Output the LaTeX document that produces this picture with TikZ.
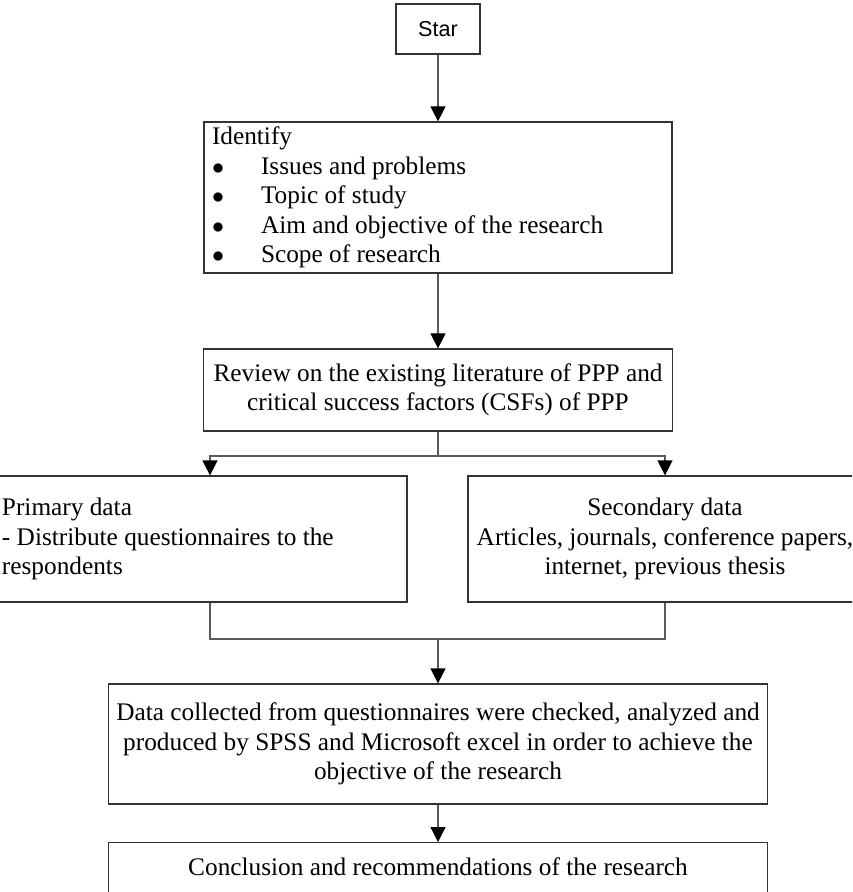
\documentclass[tikz,border=0pt]{standalone}
\usepackage{fontspec}
\setmainfont{Liberation Serif}
\newfontfamily\arialfont{Liberation Sans}
\usetikzlibrary{arrows.meta}
\newcommand{\itembul}{\makebox[24.5pt][l]{$\bullet$}}

\begin{document}
\begin{tikzpicture}[x=0.5pt, y=-0.5pt,
    box/.style={draw=black!80, line width=0.6pt, inner xsep=2pt, inner ysep=2pt,
      font=\fontsize{12.65}{14.7}\selectfont},
    line/.style={draw=black!65, line width=0.6pt},
    arrow/.style={line, -{Triangle[length=7.5pt, width=7.5pt, color=black]}}]
  %% page frame, the figure is cut at its left and right edges
  \useasboundingbox (0,0) rectangle (852,892);
  \clip (0,0) rectangle (852,892);

  % We start by placing the boxes:
  \node[box, font=\arialfont\fontsize{10.8}{13}\selectfont,
    minimum width=42pt, minimum height=25pt] (start) at (438,29) {Star};
  \node[box, text width=226pt, inner xsep=4pt, minimum height=75.5pt, align=flush left]
    (ident) at (438,197.5) {Identify\\
      \itembul Issues and problems\\
      \itembul Topic of study\\
      \itembul Aim and objective of the research\\
      \itembul Scope of research};
  \node[box, minimum width=234.5pt, minimum height=41pt, align=center]
    (review) at (438,390) {Review on the existing literature of PPP and\\
      critical success factors (CSFs) of PPP};
  \node[box, text width=193.5pt, inner xsep=9pt, minimum height=63pt, align=flush left]
    (primary) at (195.5,539) {Primary data\\
      - Distribute questionnaires to the\\
      respondents};
  \node[box, minimum width=197pt, minimum height=63pt, align=center]
    (secondary) at (665,539) {Secondary data\\
      Articles, journals, conference papers,\\
      internet, previous thesis};
  \node[box, minimum width=329.5pt, minimum height=60pt, align=center]
    (data) at (438,744) {Data collected from questionnaires were checked, analyzed and\\
      produced by SPSS and Microsoft excel in order to achieve the\\
      objective of the research};
  \node[box, anchor=north, minimum width=329.5pt, text height=8.5pt, text depth=12pt,
    inner ysep=8pt] (concl) at (438,842) {Conclusion and recommendations of the research};

  %% Then the connectors
  \coordinate (branch) at (438,456);
  \coordinate (priin) at (210,456);
  \coordinate (merge) at (438,639);
  \draw[arrow] (start) -- (ident);
  \draw[arrow] (ident) -- (review);
  \draw[line] (review) -- (branch);
  \draw[arrow] (branch) -- (priin) -- (priin |- primary.north);
  \draw[arrow] (branch) -| (secondary.north);
  \draw[line] (primary.south -| priin) |- (merge);
  \draw[line] (secondary.south) |- (merge);
  \draw[arrow] (merge) -- (data);
  \draw[arrow] (data) -- (concl);
\end{tikzpicture}
\end{document}
